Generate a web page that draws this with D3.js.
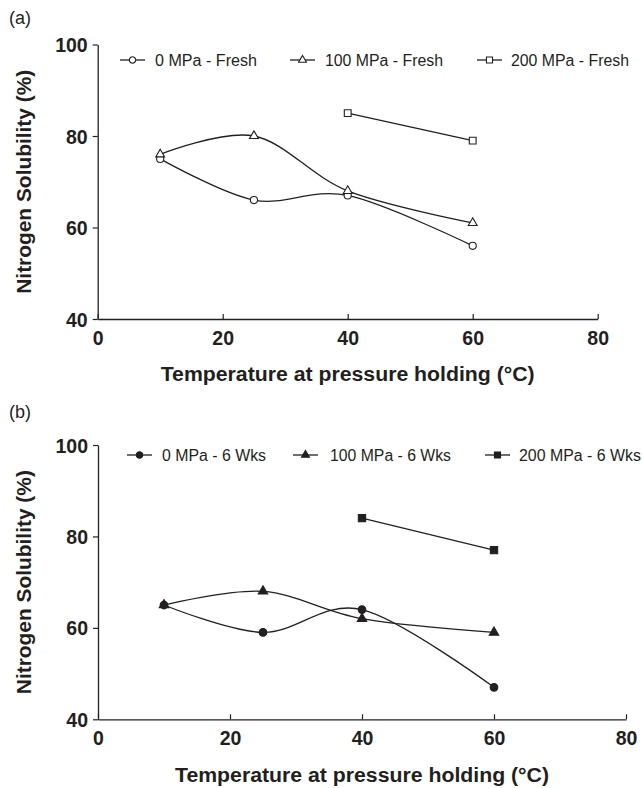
<!DOCTYPE html>
<html>
<head>
<meta charset="utf-8">
<script src="https://cdn.jsdelivr.net/npm/d3@7"></script>
<style>
  body { margin: 0; background: #fff; }
  svg text { font-family: "Liberation Sans", Arial, sans-serif; fill: #231f20; }
</style>
</head>
<body>
<svg id="chart" width="642" height="788"></svg>
<script>
// data
var temps = [10, 25, 40, 60];
var temps200 = [40, 60];

var fresh0 = [75, 66, 67, 56];
var fresh100 = [76, 80, 68, 61];
var fresh200 = [85, 79];

var wks0 = [65, 59, 64, 47];
var wks100 = [65, 68, 62, 59];
var wks200 = [84, 77];

var freshLabels = ["0 MPa - Fresh", "100 MPa - Fresh", "200 MPa - Fresh"];
var wksLabels = ["0 MPa - 6 Wks", "100 MPa - 6 Wks", "200 MPa - 6 Wks"];

var xTicks = [0, 20, 40, 60, 80];
var yTicks = [40, 60, 80, 100];

var ink = "#231f20";
var svg = d3.select("#chart");

// panel layout
var panels = [
  { tag: "(a)", tagY: 24, x0: 97.7, x1: 597.7, yTop: 44.5, yBot: 319, titleY: 381, filled: false,
    labels: freshLabels, legendY: 60,
    legendX: [{ line: 120, text: 155, w: 102 }, { line: 290, text: 325, w: 118 }, { line: 477, text: 511, w: 118 }],
    series: [fresh0, fresh100, fresh200] },
  { tag: "(b)", tagY: 418, x0: 98, x1: 626, yTop: 445, yBot: 719.3, titleY: 782, filled: true,
    labels: wksLabels, legendY: 455,
    legendX: [{ line: 127, text: 162, w: 104 }, { line: 293, text: 330, w: 121 }, { line: 485, text: 519, w: 122 }],
    series: [wks0, wks100, wks200] }
];

var shapes = [d3.symbolCircle, d3.symbolTriangle, d3.symbolSquare];
var shapeSizes = [40, 34, 46];

function marker(g, i, filled, scale) {
  g.append("path")
    .attr("d", d3.symbol().type(shapes[i]).size(shapeSizes[i] * (scale || 1)))
    .attr("fill", filled ? ink : "#fff")
    .attr("stroke", ink)
    .attr("stroke-width", 1.1);
}

panels.forEach(function(p) {
  var x = d3.scaleLinear().domain([0, 80]).range([p.x0, p.x1]);
  var y = d3.scaleLinear().domain([40, 100]).range([p.yBot, p.yTop]);

  svg.append("text")
    .attr("x", 9).attr("y", p.tagY)
    .attr("font-size", 18)
    .text(p.tag);

  // axes
  var xAxis = svg.append("g")
    .attr("transform", "translate(0," + p.yBot + ")")
    .call(d3.axisBottom(x).tickValues(xTicks).tickSizeInner(-5).tickSizeOuter(0).tickPadding(12));
  var yAxis = svg.append("g")
    .attr("transform", "translate(" + p.x0 + ",0)")
    .call(d3.axisLeft(y).tickValues(yTicks).tickSizeInner(5).tickSizeOuter(0).tickPadding(5));

  [xAxis, yAxis].forEach(function(a) {
    a.select(".domain").attr("stroke", ink).attr("stroke-width", 1.3);
    a.selectAll(".tick line").attr("stroke", ink).attr("stroke-width", 1.2);
    a.selectAll(".tick text")
      .attr("font-family", "'Liberation Sans', Arial, sans-serif")
      .attr("font-weight", "bold")
      .attr("font-size", 19.5)
      .attr("fill", ink);
  });
  xAxis.selectAll(".tick text").attr("dy", "0.71em");
  yAxis.selectAll(".tick text").attr("dy", "0.36em");

  // axis titles
  svg.append("text")
    .attr("x", (p.x0 + p.x1) / 2)
    .attr("y", p.titleY)
    .attr("text-anchor", "middle")
    .attr("font-size", 20)
    .attr("font-weight", "bold")
    .attr("textLength", 374)
    .attr("lengthAdjust", "spacingAndGlyphs")
    .text("Temperature at pressure holding (\u00B0C)");

  svg.append("text")
    .attr("transform", "translate(31," + (p.yTop + p.yBot) / 2 + ") rotate(-90)")
    .attr("text-anchor", "middle")
    .attr("font-size", 20)
    .attr("font-weight", "bold")
    .attr("textLength", 224)
    .attr("lengthAdjust", "spacingAndGlyphs")
    .text("Nitrogen Solubility (%)");

  // series
  var smooth = d3.line()
    .x(function(d) { return x(d[0]); })
    .y(function(d) { return y(d[1]); })
    .curve(d3.curveCatmullRom.alpha(0));

  p.series.forEach(function(vals, i) {
    var xs = vals.length === 2 ? temps200 : temps;
    var pts = vals.map(function(v, k) { return [xs[k], v]; });
    svg.append("path")
      .attr("d", smooth(pts))
      .attr("fill", "none")
      .attr("stroke", ink)
      .attr("stroke-width", 1.3);
  });
  p.series.forEach(function(vals, i) {
    var xs = vals.length === 2 ? temps200 : temps;
    vals.forEach(function(v, k) {
      var g = svg.append("g").attr("transform", "translate(" + x(xs[k]) + "," + y(v) + ")");
      marker(g, i, p.filled, p.filled ? 1.15 : 1);
    });
  });

  // legend
  p.labels.forEach(function(lab, i) {
    var lx = p.legendX[i];
    svg.append("line")
      .attr("x1", lx.line).attr("x2", lx.line + 25)
      .attr("y1", p.legendY).attr("y2", p.legendY)
      .attr("stroke", ink).attr("stroke-width", 1.3);
    var g = svg.append("g").attr("transform", "translate(" + (lx.line + 12.5) + "," + p.legendY + ")");
    marker(g, i, p.filled, 0.8);
    svg.append("text")
      .attr("x", lx.text).attr("y", p.legendY)
      .attr("dy", "0.36em")
      .attr("font-size", 16)
      .attr("textLength", lx.w)
      .attr("lengthAdjust", "spacingAndGlyphs")
      .text(lab);
  });
});
</script>
</body>
</html>
